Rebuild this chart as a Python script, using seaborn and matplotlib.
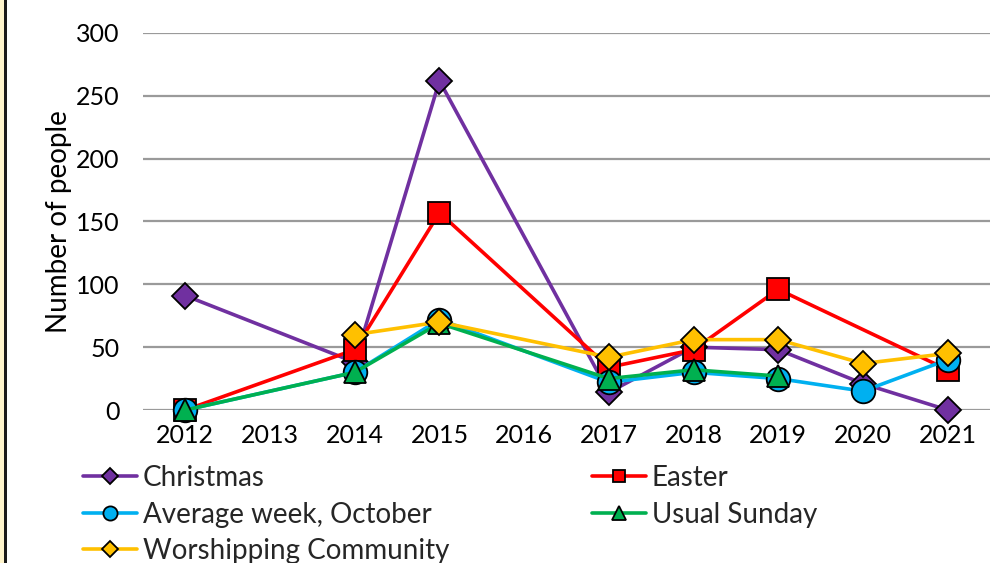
import numpy as np
import pandas as pd
import matplotlib
matplotlib.use("Agg")
import matplotlib.pyplot as plt
import seaborn as sns
from matplotlib.patches import Rectangle

years = [2012, 2013, 2014, 2015, 2016, 2017, 2018, 2019, 2020, 2021]
christmas = [91, np.nan, 38, 262, np.nan, 14, 50, 48, 21, 0]
easter = [0, np.nan, 48, 157, np.nan, 34, 48, 96, np.nan, 32]
average_week = [0, np.nan, 30, 72, np.nan, 22, 30, 25, 15, 40]
usual_sunday = [0, np.nan, 30, 69, np.nan, 25, 32, 27, np.nan, np.nan]
worshipping = [np.nan, np.nan, 60, 70, np.nan, 42, 56, 56, 37, 45]

series_names = ["Christmas", "Easter", "Average week, October", "Usual Sunday",
                "Worshipping Community"]
series_values = [christmas, easter, average_week, usual_sunday, worshipping]
y_ticks = [0, 50, 100, 150, 200, 250, 300]

colors = ["#7030A0", "#FF0000", "#00B0F0", "#00B050", "#FFC000"]
markers = ["D", "s", "o", "^", "D"]
msizes = [13, 15.5, 17, 16, 13]

sns.set_theme(style="white")
plt.rcParams["font.family"] = ["Lato", "DejaVu Sans"]

fig = plt.figure(figsize=(10.08, 5.63), dpi=100)
ax = fig.add_axes([143 / 1008, 1 - 410 / 563, (990 - 143) / 1008, (410 - 33) / 563])

# left frame strip
fig.patches.append(Rectangle((0, 0), 4 / 1008, 1, transform=fig.transFigure,
                             facecolor="#FFF5CC", edgecolor="none", zorder=0))
fig.patches.append(Rectangle((4 / 1008, 0), 2.5 / 1008, 1, transform=fig.transFigure,
                             facecolor="#1a1a1a", edgecolor="none", zorder=0))

handles = []
for i, (name, vals) in enumerate(zip(series_names, series_values)):
    df = pd.DataFrame({"year": years, "value": vals}).dropna()
    sns.lineplot(data=df, x="year", y="value", ax=ax, color=colors[i],
                 marker=markers[i], markersize=msizes[i], markeredgecolor="black",
                 markeredgewidth=1.3, linewidth=2.6, label=name, clip_on=False,
                 zorder=3 + i, legend=False)
    handles.append(ax.lines[-1])

ax.set_xlim(2011.5, 2021.5)
ax.set_ylim(0, 300)
ax.set_xticks(years)
ax.set_xticklabels([str(y) for y in years])
ax.set_yticks(y_ticks)
ax.yaxis.grid(True, color="#9a9a9a", linewidth=1.6)
ax.set_axisbelow(True)
for s in ax.spines.values():
    s.set_visible(False)
ax.tick_params(axis="both", length=0, labelsize=18, colors="black")
ax.tick_params(axis="y", pad=17)
ax.tick_params(axis="x", pad=10)
ax.set_xlabel("")
ax.set_ylabel("Number of people", fontsize=20, labelpad=3, color="black")

order1 = [0, 2, 4]
order2 = [1, 3]
leg_kw = dict(frameon=False, prop={"size": 20}, handlelength=1.95, handletextpad=0.2,
              borderpad=0, borderaxespad=0, labelspacing=0.38, loc="upper left",
              markerscale=0.6)
leg1 = fig.legend([handles[i] for i in order1], [series_names[i] for i in order1],
                  bbox_to_anchor=(83 / 1008, 1 - 465 / 563), **leg_kw)
leg2 = fig.legend([handles[i] for i in order2], [series_names[i] for i in order2],
                  bbox_to_anchor=(592 / 1008, 1 - 465 / 563), **leg_kw)

fig.savefig("out.png", dpi=100)
